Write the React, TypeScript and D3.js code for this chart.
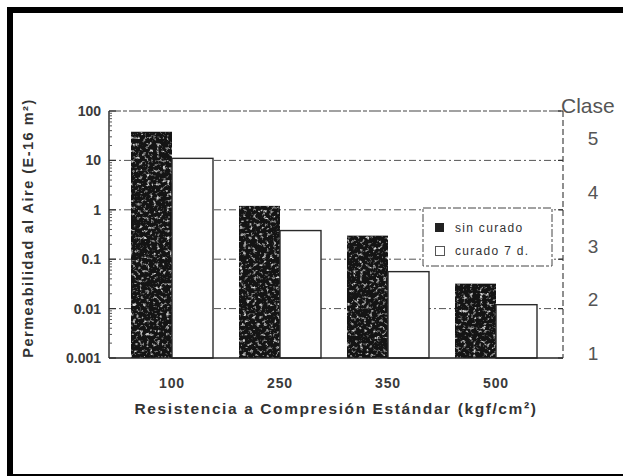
import React from "react";
import * as d3 from "d3";

const categories = ["100", "250", "350", "500"];
const sinCurado = [38, 1.2, 0.3, 0.032];
const curado7d = [11, 0.38, 0.056, 0.012];
const yTicks = [100, 10, 1, 0.1, 0.01, 0.001];
const yTickLabels = ["100", "10", "1", "0.1", "0.01", "0.001"];
const classes = [1, 2, 3, 4, 5];
const legendLabels = ["sin curado", "curado 7 d."];

const W = 623;
const H = 476;
const FONT = "'Liberation Sans', Arial, Helvetica, sans-serif";

export default function App() {
  const left = 109;
  const right = 563;
  const top = 111;
  const bottom = 358;

  const y = d3.scaleLog().domain([0.001, 100]).range([bottom, top]);
  const x = d3.scaleBand().domain(categories).range([118, 550]).paddingInner(0).paddingOuter(0);
  const barW = 41;
  const yClass = d3.scaleLinear().domain([1, 5]).range([353, 138]);

  const minor: number[] = [];
  for (let e = -3; e < 2; e++) {
    for (let m = 2; m <= 9; m++) minor.push(m * Math.pow(10, e));
  }

  return (
    <svg
      width={W}
      height={H}
      style={{ position: "fixed", left: 0, top: 0, background: "#fff" }}
      fontFamily={FONT}
    >
      <defs>
        <filter id="speck" x="0" y="0" width="1" height="1" filterUnits="objectBoundingBox">
          <feTurbulence type="fractalNoise" baseFrequency="0.3" numOctaves={3} seed={11} result="t" />
          <feColorMatrix
            in="t"
            type="matrix"
            values="0 0 0 0 0.68  0 0 0 0 0.68  0 0 0 0 0.68  3.6 0 0 0 -1.95"
            result="m"
          />
          <feComposite in="m" in2="SourceGraphic" operator="in" />
        </filter>
      </defs>

      <rect x={0} y={0} width={W} height={H} fill="#fff" />
      {/* frame */}
      <rect x={10} y={10} width={640} height={467} fill="none" stroke="#000" strokeWidth={6} />

      {/* grid lines */}
      {yTicks.slice(1, 5).map((t) => (
        <line
          key={"g" + t}
          x1={left}
          x2={right}
          y1={y(t)}
          y2={y(t)}
          stroke="#555"
          strokeWidth={1}
          strokeDasharray="7,3,2,3"
        />
      ))}
      <line x1={left} x2={right} y1={top} y2={top} stroke="#444" strokeWidth={1.2} strokeDasharray="12,2,4,2" />

      {/* bars */}
      {categories.map((c, i) => {
        const cx = (x(c) as number) + x.bandwidth() / 2;
        const yb = y(sinCurado[i]);
        const yw = y(curado7d[i]);
        return (
          <g key={c}>
            <rect x={cx - barW} y={yb} width={barW} height={bottom - yb} fill="#141414" />
            <rect x={cx - barW} y={yb} width={barW} height={bottom - yb} fill="#fff" filter="url(#speck)" />
            <rect
              x={cx}
              y={yw}
              width={barW}
              height={bottom - yw}
              fill="#fff"
              stroke="#2a2a2a"
              strokeWidth={1.4}
            />
          </g>
        );
      })}

      {/* axes */}
      <line x1={left} x2={left} y1={top} y2={bottom} stroke="#222" strokeWidth={1.4} />
      <line x1={left} x2={right} y1={bottom} y2={bottom} stroke="#222" strokeWidth={1.6} />
      <line x1={right} x2={right} y1={top} y2={bottom} stroke="#444" strokeWidth={1.2} strokeDasharray="6,3" />
      {yTicks.map((t) => (
        <g key={"t" + t}>
          <line x1={left} x2={left + 7} y1={y(t)} y2={y(t)} stroke="#333" strokeWidth={1.2} />
          <line x1={right - 5} x2={right} y1={y(t)} y2={y(t)} stroke="#333" strokeWidth={1.2} />
        </g>
      ))}
      {minor.map((t) => (
        <line key={"m" + t} x1={left} x2={left + 3} y1={y(t)} y2={y(t)} stroke="#555" strokeWidth={1} />
      ))}

      {/* y tick labels */}
      {yTicks.map((t, i) => (
        <text
          key={"yl" + t}
          x={101}
          y={y(t) + 5}
          textAnchor="end"
          fontSize={14}
          fontWeight="bold"
          fill="#3a3a3a"
        >
          {yTickLabels[i]}
        </text>
      ))}

      {/* x tick labels */}
      {categories.map((c) => (
        <text
          key={"xl" + c}
          x={(x(c) as number) + x.bandwidth() / 2}
          y={388}
          textAnchor="middle"
          fontSize={14}
          fontWeight="bold"
          fill="#3a3a3a"
          letterSpacing={0.8}
        >
          {c}
        </text>
      ))}

      {/* axis titles */}
      <text
        x={336}
        y={414}
        textAnchor="middle"
        fontSize={15.5}
        fontWeight="bold"
        fill="#333"
        letterSpacing={1.6}
      >
        Resistencia a Compresión Estándar (kgf/cm²)
      </text>
      <text
        transform={`translate(33,228) rotate(-90)`}
        textAnchor="middle"
        fontSize={14.5}
        fontWeight="bold"
        fill="#333"
        letterSpacing={1.5}
      >
        Permeabilidad al Aire (E-16 m²)
      </text>

      {/* class axis */}
      <text x={561} y={113} fontSize={21} fill="#555">
        Clase
      </text>
      {classes.map((c) => (
        <text key={"c" + c} x={593} y={yClass(c) + 7} textAnchor="middle" fontSize={19} fill="#555">
          {c}
        </text>
      ))}

      {/* legend */}
      <rect x={423} y={208} width={129} height={58} fill="#fff" stroke="#444" strokeWidth={1} strokeDasharray="8,2,3,2" />
      <rect x={435} y={223} width={9} height={9} fill="#222" />
      <text x={455} y={232} fontSize={12} fill="#333" letterSpacing={1.3}>
        {legendLabels[0]}
      </text>
      <rect x={435.5} y={246.5} width={9} height={9} fill="#fff" stroke="#555" strokeWidth={1} />
      <text x={455} y={255} fontSize={12} fill="#333" letterSpacing={1.3}>
        {legendLabels[1]}
      </text>
    </svg>
  );
}
